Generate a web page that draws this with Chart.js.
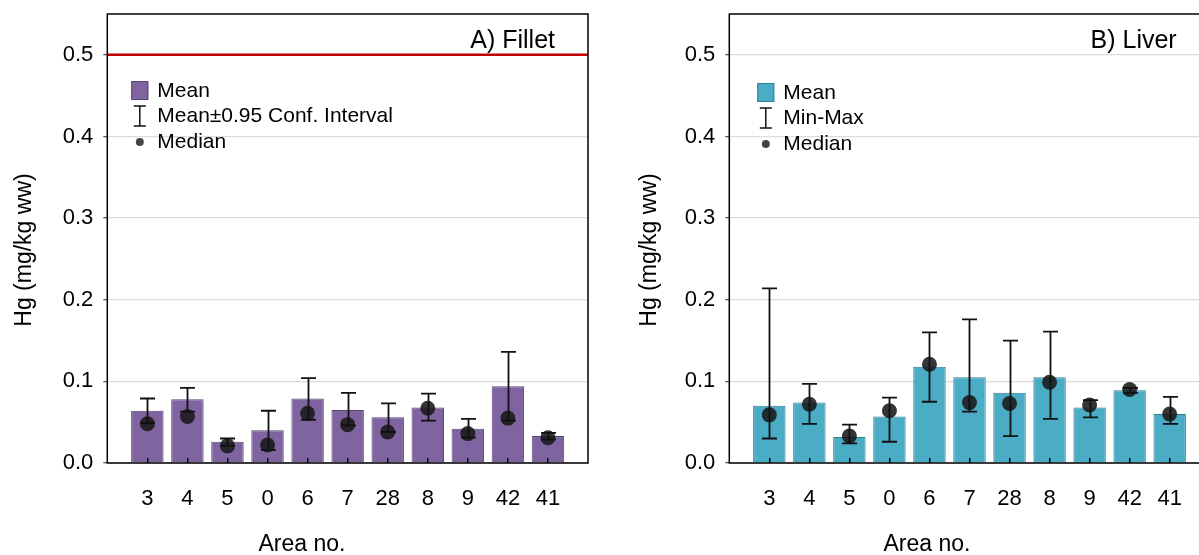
<!DOCTYPE html>
<html>
<head>
<meta charset="utf-8">
<script src="https://cdn.jsdelivr.net/npm/chart.js@4.4.1/dist/chart.umd.min.js"></script>
<style>
  html, body { margin: 0; padding: 0; background: #fff; overflow: hidden; width: 1199px; height: 555px; }
  .panel { position: absolute; top: 0; }
</style>
</head>
<body>
<div class="panel" style="left:0px"><canvas id="fillet" width="600" height="555"></canvas></div>
<div class="panel" style="left:625px"><canvas id="liver" width="600" height="555"></canvas></div>
<script>
const areas = ['3', '4', '5', '0', '6', '7', '28', '8', '9', '42', '41']
const yTicks = [0, 0.1, 0.2, 0.3, 0.4, 0.5]

// A) Fillet: mean, 95% conf. interval, median
const filletMean = [0.064, 0.078, 0.026, 0.040, 0.079, 0.065, 0.056, 0.068, 0.042, 0.094, 0.033]
const filletCiLow = [0.049, 0.063, 0.021, 0.016, 0.053, 0.046, 0.038, 0.052, 0.031, 0.052, 0.029]
const filletCiHigh = [0.079, 0.092, 0.030, 0.064, 0.104, 0.086, 0.073, 0.085, 0.054, 0.136, 0.037]
const filletMedian = [0.048, 0.057, 0.021, 0.022, 0.061, 0.047, 0.038, 0.067, 0.036, 0.055, 0.031]
const filletLimit = 0.5

// B) Liver: mean, min-max, median
const liverMean = [0.070, 0.074, 0.032, 0.057, 0.118, 0.105, 0.086, 0.105, 0.068, 0.089, 0.060]
const liverMin = [0.030, 0.048, 0.024, 0.026, 0.075, 0.063, 0.033, 0.054, 0.056, 0.086, 0.048]
const liverMax = [0.214, 0.097, 0.047, 0.080, 0.160, 0.176, 0.150, 0.161, 0.077, 0.092, 0.081]
const liverMedian = [0.059, 0.072, 0.033, 0.064, 0.121, 0.074, 0.073, 0.099, 0.071, 0.090, 0.060]

const FONT = '"Liberation Sans", Arial, sans-serif'

// error bars, frame, legend and labels drawn on top of the datasets
const panelDecor = {
  id: 'panelDecor',
  afterDatasetsDraw(chart, args, opts) {
    const { ctx, chartArea: a, scales: { x, y } } = chart
    ctx.save()
    ctx.strokeStyle = '#111'
    ctx.lineWidth = 1.8
    opts.low.forEach((lo, i) => {
      const px = Math.round(x.getPixelForValue(i)) + 0.5
      const y1 = y.getPixelForValue(lo)
      const y2 = y.getPixelForValue(opts.high[i])
      ctx.beginPath()
      ctx.moveTo(px, y1); ctx.lineTo(px, y2)
      ctx.moveTo(px - 7.5, y1); ctx.lineTo(px + 7.5, y1)
      ctx.moveTo(px - 7.5, y2); ctx.lineTo(px + 7.5, y2)
      ctx.stroke()
    })
    ctx.lineWidth = 1.5
    ctx.strokeStyle = '#000'
    ctx.strokeRect(a.left, a.top, a.right - a.left, a.bottom - a.top)
    ctx.restore()
  },
  afterDraw(chart, args, opts) {
    const { ctx, chartArea: a } = chart
    ctx.save()
    ctx.fillStyle = '#000'
    // panel label
    ctx.font = '25px ' + FONT
    ctx.textAlign = 'right'
    ctx.textBaseline = 'alphabetic'
    ctx.fillText(opts.label, a.right - 33, 48)

    // legend
    const lx = a.left + opts.legendX
    ctx.fillStyle = opts.color
    ctx.fillRect(lx, opts.legendY - 9, 17, 19)
    ctx.strokeStyle = opts.edge
    ctx.lineWidth = 1
    ctx.strokeRect(lx + 0.5, opts.legendY - 8.5, 16, 18)
    const cx = lx + 8.5
    const ey = opts.legendY + 26
    ctx.strokeStyle = '#111'
    ctx.lineWidth = 1.5
    ctx.beginPath()
    ctx.moveTo(cx, ey - 10); ctx.lineTo(cx, ey + 10)
    ctx.moveTo(cx - 6, ey - 10); ctx.lineTo(cx + 6, ey - 10)
    ctx.moveTo(cx - 6, ey + 10); ctx.lineTo(cx + 6, ey + 10)
    ctx.stroke()
    ctx.fillStyle = '#444'
    ctx.beginPath()
    ctx.arc(cx, opts.legendY + 52, 4, 0, Math.PI * 2)
    ctx.fill()

    ctx.fillStyle = '#000'
    ctx.font = '21px ' + FONT
    ctx.textAlign = 'left'
    ctx.textBaseline = 'middle'
    const tx = lx + 26
    ctx.fillText('Mean', tx, opts.legendY + 1)
    ctx.fillText(opts.errLabel, tx, opts.legendY + 26)
    ctx.fillText('Median', tx, opts.legendY + 52)

    // axis titles
    ctx.font = '23px ' + FONT
    ctx.textAlign = 'center'
    ctx.fillText('Area no.', chart.width / 2 + opts.xTitleShift, 545)
    ctx.translate(opts.yTitleX, 250)
    ctx.rotate(-Math.PI / 2)
    ctx.fillText('Hg (mg/kg ww)', 0, 0)
    ctx.restore()
  }
}

function makePanel(id, cfg) {
  const datasets = [
    {
      type: 'scatter',
      data: cfg.median.map((v, i) => ({ x: i, y: v })),
      pointRadius: 7.5,
      pointHoverRadius: 7.5,
      backgroundColor: 'rgba(25,25,25,0.88)',
      borderWidth: 0,
      order: 1
    },
    {
      type: 'bar',
      data: cfg.mean.map((v, i) => ({ x: i, y: v })),
      backgroundColor: cfg.color,
      borderColor: cfg.edge,
      borderWidth: 1,
      barPercentage: 0.81,
      categoryPercentage: 1,
      order: 3
    }
  ]
  if (cfg.limit !== undefined) {
    datasets.push({
      type: 'line',
      data: [{ x: -1, y: cfg.limit }, { x: areas.length, y: cfg.limit }],
      borderColor: '#c00000',
      borderWidth: 2.5,
      pointRadius: 0,
      order: 2
    })
  }

  new Chart(document.getElementById(id), {
    data: { datasets: datasets },
    options: {
      responsive: false,
      animation: false,
      events: [],
      layout: { padding: { top: 14, right: cfg.padRight, left: 0, bottom: 0 } },
      plugins: {
        legend: { display: false },
        tooltip: { enabled: false },
        panelDecor: {
          low: cfg.low, high: cfg.high, label: cfg.label, errLabel: cfg.errLabel,
          color: cfg.color, edge: cfg.edge, legendX: cfg.legendX, legendY: cfg.legendY,
          yTitleX: cfg.yTitleX, xTitleShift: cfg.xTitleShift
        }
      },
      scales: {
        x: {
          type: 'linear',
          min: -1,
          max: areas.length,
          offset: false,
          afterBuildTicks: (scale) => { scale.ticks = areas.map((a, i) => ({ value: i })) },
          afterFit: (scale) => {
            scale.height = 92
            scale.paddingLeft = 0
            scale.paddingRight = 0
          },
          ticks: {
            callback: (v) => areas[v],
            autoSkip: false,
            maxRotation: 0,
            padding: 28,
            color: '#000',
            font: { family: FONT, size: 22 }
          },
          grid: { z: 1, offset: false, drawOnChartArea: false, drawTicks: true, tickLength: -5, color: '#000', lineWidth: 1.5 },
          border: { display: false }
        },
        y: {
          min: 0,
          max: 0.55,
          afterBuildTicks: (scale) => { scale.ticks = yTicks.map(v => ({ value: v })) },
          afterFit: (scale) => {
            scale.width = cfg.axisLeft
            scale.paddingTop = 0
            scale.paddingBottom = 0
          },
          ticks: {
            callback: (v) => v.toFixed(1),
            padding: 10,
            color: '#000',
            font: { family: FONT, size: 22 }
          },
          grid: { color: '#dcdcdc', lineWidth: 1.3, tickLength: 4, tickColor: '#555' },
          border: { display: false }
        }
      }
    },
    plugins: [panelDecor]
  })
}

makePanel('fillet', {
  mean: filletMean, low: filletCiLow, high: filletCiHigh, median: filletMedian, limit: filletLimit,
  color: '#8064a2', edge: '#5a4578', label: 'A) Fillet', errLabel: 'Mean\u00b10.95 Conf. Interval',
  axisLeft: 107.3, padRight: 12, legendX: 24, legendY: 90, yTitleX: 24.5, xTitleShift: 2
})

makePanel('liver', {
  mean: liverMean, low: liverMin, high: liverMax, median: liverMedian,
  color: '#4bacc6', edge: '#2f7f93', label: 'B) Liver', errLabel: 'Min-Max',
  axisLeft: 104.3, padRight: 15.3, legendX: 28, legendY: 92, yTitleX: 25, xTitleShift: 2
})
</script>
</body>
</html>
